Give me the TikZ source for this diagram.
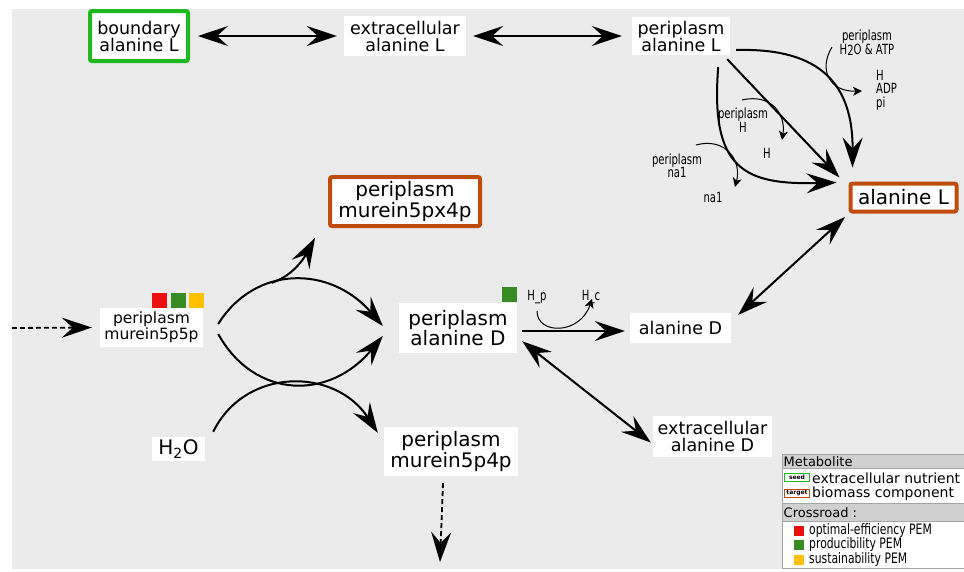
\documentclass[tikz,border=0pt]{standalone}
\usepackage{fontspec}
\setmainfont{DejaVu Sans}
\newfontfamily\condfont{DejaVu Sans}[FakeStretch=0.72]
\newfontfamily\legcondfont{DejaVu Sans}[FakeStretch=0.75]
\usetikzlibrary{arrows.meta}
\definecolor{bggray}{RGB}{235,235,235}
\definecolor{seedgreen}{RGB}{30,185,30}
\definecolor{tgtorange}{RGB}{192,76,12}
\definecolor{sqred}{RGB}{235,15,15}
\definecolor{sqgreen}{RGB}{55,140,35}
\definecolor{sqyellow}{RGB}{255,192,0}
\definecolor{hdrgray}{RGB}{208,208,208}
\definecolor{legline}{RGB}{165,165,165}
\tikzset{
  box/.style={fill=white, inner sep=0pt, align=center},
  bigf/.style={font=\fontsize{20}{19}\selectfont},
  midf/.style={font=\fontsize{17.5}{17}\selectfont},
  smlf/.style={font=\fontsize{15.5}{16}\selectfont},
  seedbox/.style={box, draw=seedgreen, line width=4pt, rounded corners=2pt},
  tgtbox/.style={box, draw=tgtorange, line width=4pt, rounded corners=2pt},
  bigtip/.tip={Stealth[length=30pt,width=20pt,inset=11pt]},
  rxn/.style={line width=2pt, -{bigtip}},
  both/.style={line width=2pt, {bigtip}-{bigtip}},
  dashrxn/.style={line width=1.8pt, dash pattern=on 5pt off 3pt, -{bigtip}},
  side/.style={line width=1pt, -{Stealth[length=9pt,width=9pt,inset=2.5pt]}},
  sidetxt/.style={font=\condfont\fontsize{14}{13.5}\selectfont, align=center, inner sep=0pt},
  legtxt/.style={font=\fontsize{13}{13}\selectfont, inner sep=0pt, anchor=west},
  legbig/.style={font=\fontsize{14}{14}\selectfont, inner sep=0pt, anchor=west},
  legcond/.style={font=\legcondfont\fontsize{14.4}{14.4}\selectfont, inner sep=0pt, anchor=west},
  badge/.style={fill=white, line width=0.8pt, inner sep=0pt, minimum width=25pt, minimum height=8pt, font=\bfseries\fontsize{6}{6}\selectfont}
}
\begin{document}
\begin{tikzpicture}[x=1pt,y=-1pt]
\useasboundingbox (0,0) rectangle (964,571);
\fill[bggray] (12,9) rectangle (964,569);

% metabolite nodes
\node[seedbox, midf, minimum width=98, minimum height=50] (bAL) at (139,36) {boundary\\alanine L};
\node[box, midf, minimum width=122, minimum height=40] (eAL) at (405,36) {extracellular\\alanine L};
\node[box, midf, minimum width=98, minimum height=38] (pAL) at (681,36) {periplasm\\alanine L};
\node[tgtbox, bigf, minimum width=106, minimum height=28] (AL) at (903.5,197.5) {alanine L};
\node[tgtbox, bigf, minimum width=150, minimum height=49] (m5px4p) at (405,201.5) {periplasm\\murein5px4p};
\node[box, smlf, minimum width=103, minimum height=39] (m5p5p) at (151.5,327.5) {periplasm\\murein5p5p};
\node[box, bigf, minimum width=118, minimum height=50] (pAD) at (458,328) {periplasm\\alanine D};
\node[box, bigf, minimum width=53, minimum height=24] (h2o) at (178.5,449) {H\textsubscript{2}O};
\node[box, bigf, minimum width=134, minimum height=49] (m5p4p) at (451,451.5) {periplasm\\murein5p4p};
\node[box, midf, minimum width=101, minimum height=30] (AD) at (680.5,328) {alanine D};
\node[box, midf, minimum width=119, minimum height=41] (eAD) at (712.5,436.5) {extracellular\\alanine D};

% crossroad squares
\fill[sqred] (152,293) rectangle (167,308);
\fill[sqgreen] (171,293) rectangle (186,308);
\fill[sqyellow] (189,293) rectangle (204,308);
\fill[sqgreen] (502,287) rectangle (517,302);

% top row transport
\draw[both] ([xshift=8]bAL.east) -- ([xshift=-7]eAL.west);
\draw[both] ([xshift=7]eAL.east) -- ([xshift=-10]pAL.west);

% periplasm alanine L -> alanine L
\draw[rxn] ([shift={(-3,4)}]pAL.south east) -- ([shift={(-9,-4)}]AL.north west);
\draw[rxn] ([shift={(6,14)}]pAL.east) .. controls (810,48) and (853,75) .. ([shift={(4,-14)}]AL.north west);
\draw[rxn] ([shift={(-12,12)}]pAL.south east) .. controls (710,170) and (745,185) .. ([shift={(-12,-15)}]AL.west);

% side compounds (top right)
\node[sidetxt] (s1in) at (867,43) {periplasm\\H\raisebox{-1.5pt}{2}O \& ATP};
\node[sidetxt, align=left, anchor=west] (s1out) at (876,90) {H\\ADP\\pi};
\coordinate (s1a) at (832,47);
\coordinate (s1b) at (862,91);
\draw[side] (s1a) .. controls (818,70) and (830,92) .. (s1b);

\node[sidetxt] (s2in) at (743,120) {periplasm\\H};
\node[sidetxt] (s2out) at (767,153) {H};
\coordinate (s2a) at (742,100);
\coordinate (s2b) at (782,140);
\draw[side] (s2a) .. controls (772,93) and (786,115) .. (s2b);

\node[sidetxt] (s3in) at (677,166) {periplasm\\na1};
\node[sidetxt] (s3out) at (713,197) {na1};
\coordinate (s3a) at (696,145);
\coordinate (s3b) at (735,187);
\draw[side] (s3a) .. controls (725,137) and (742,160) .. (s3b);

% alanine D <-> alanine L
\draw[both] ([shift={(7,2)}]AD.north east) -- ([shift={(-3.5,3.5)}]AL.south west);

% periplasm alanine D -> alanine D
\draw[rxn] ([shift={(5,3)}]pAD.east) -- ([shift={(-5,3)}]AD.west);
\node[sidetxt] (hp) at (537,297) {H\_p};
\node[sidetxt] (hc) at (591,297) {H\_c};
\draw[side] ([yshift=-7]hp.south) .. controls (537,335) and (580,335) .. ([shift={(1,-5)}]hc.south);

% periplasm alanine D <-> extracellular alanine D
\draw[both] ([shift={(5,-12)}]pAD.south east) -- ([shift={(-2,6)}]eAD.west);

% murein reactions
\draw[rxn] ([shift={(15,-3.5)}]m5p5p.east) .. controls (255,265) and (330,265) .. ([shift={(-16,-2)}]pAD.west) coordinate[pos=0.37] (r1b);
\draw[rxn] (r1b) .. controls (292,276) and (303,260) .. ([shift={(-13,10)}]m5px4p.south west);
\draw[rxn] ([shift={(15,6.5)}]m5p5p.east) .. controls (255,400) and (330,400) .. ([shift={(-16,8)}]pAD.west);
\draw[rxn] ([shift={(8,-5)}]h2o.north east) .. controls (245,367) and (335,367) .. ([shift={(-6,6)}]m5p4p.north west);

% dashed in/out
\coordinate (dstart) at (12,328);
\draw[dashrxn] (dstart) -- ([xshift=-8]m5p5p.west);
\coordinate (dend) at (440,562);
\draw[dashrxn] ([shift={(-8,7)}]m5p4p.south) -- (dend);

% legend
\fill[white] (782,454) rectangle (964,568);
\fill[hdrgray] (782,454) rectangle (964,468);
\fill[hdrgray] (782,503) rectangle (964,521);
\draw[legline, line width=0.8pt] (964,454) -- (782,454) -- (782,568) -- (964,568);
\draw[legline, line width=0.6pt] (782,468) -- (964,468);
\draw[legline, line width=0.6pt] (782,503) -- (964,503);
\draw[legline, line width=0.6pt] (782,521) -- (964,521);
\node[legtxt] (lgmet) at (783.5,461.5) {Metabolite};
\node[badge, draw=seedgreen] (lgseed) at (797,477.5) {seed};
\node[legbig] (lgext) at (812,478) {extracellular nutrient};
\node[badge, draw=tgtorange] (lgtgt) at (797,493.5) {target};
\node[legbig] (lgbio) at (812,494) {biomass component};
\node[legtxt] (lgcross) at (783.5,512.5) {Crossroad :};
\fill[sqred] (794,526) rectangle (804,536);
\node[legcond] (lgopt) at (809,531) {optimal-efficiency PEM};
\fill[sqgreen] (794,540) rectangle (804,550);
\node[legcond] (lgprod) at (809,545) {producibility PEM};
\fill[sqyellow] (794,555) rectangle (804,565);
\node[legcond] (lgsust) at (809,560) {sustainability PEM};
\end{tikzpicture}
\end{document}
